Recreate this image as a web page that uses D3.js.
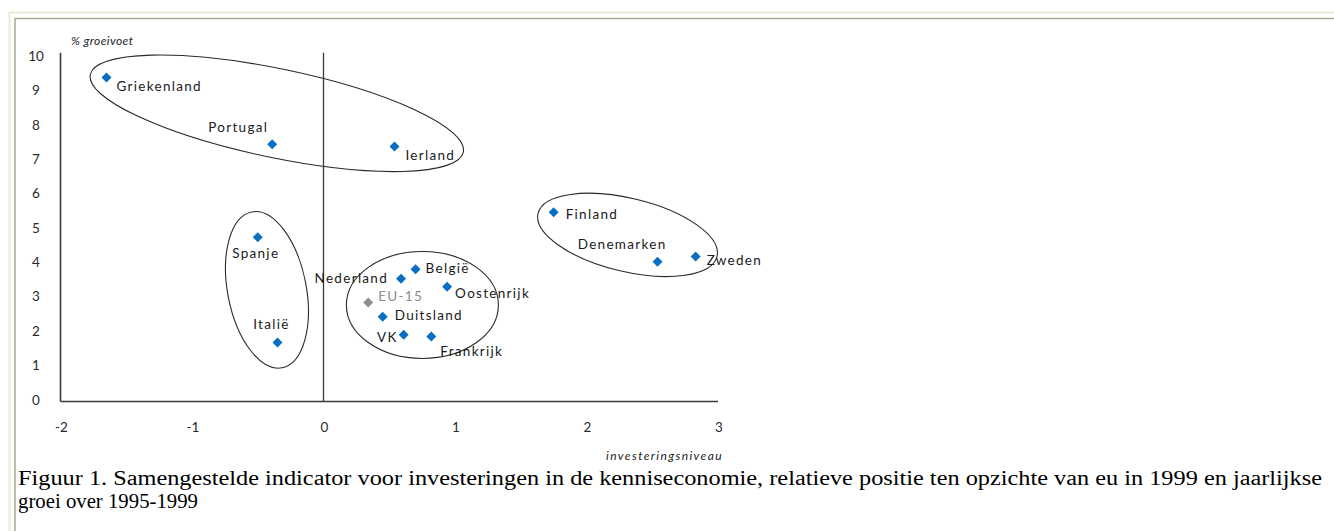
<!DOCTYPE html>
<html><head><meta charset="utf-8">
<script src="https://cdn.jsdelivr.net/npm/d3@7"></script>
<style>
html,body{margin:0;padding:0;background:#fff;overflow:hidden;}
svg{display:block;}
</style></head>
<body>
<svg id="c" width="1334" height="531"></svg>
<script>
// ---- data ----
const countries = ["Griekenland","Portugal","Ierland","Spanje","Italië","EU-15","Duitsland","VK","Frankrijk","Nederland","België","Oostenrijk","Finland","Denemarken","Zweden"];
const investering = [-1.65,-0.39,0.54,-0.50,-0.35,0.34,0.45,0.61,0.82,0.59,0.70,0.94,1.75,2.54,2.83];
const groei = [9.43,7.49,7.42,4.78,1.72,2.88,2.47,1.94,1.89,3.57,3.85,3.34,5.51,4.07,4.22];
const xTicks = [-2,-1,0,1,2,3];
const yTicks = [0,1,2,3,4,5,6,7,8,9,10];
const yAxisTitle = "% groeivoet";
const xAxisTitle = "investeringsniveau";
const caption1 = "Figuur 1. Samengestelde indicator voor investeringen in de kenniseconomie, relatieve positie ten opzichte van eu in 1999 en jaarlijkse";
const caption2 = "groei over 1995-1999";
// group ellipses: centre in data units
const groupCx = [-0.355,-0.43,0.752,2.312];
const groupCy = [8.39,3.25,2.81,4.85];

// ---- presentation ----
const groupShape = [ {rx:190.5, ry:44.4, rot:11.75}, {rx:79.4, ry:39.3, rot:79}, {rx:76, ry:53.5, rot:0}, {rx:92, ry:36.7, rot:13.5} ];
const labelPos = {
  "Griekenland":{dx:10,dy:8,a:"start"},
  "Portugal":{dx:-4,dy:-17.5,a:"end"},
  "Ierland":{dx:11,dy:8,a:"start"},
  "Spanje":{dx:-2,dy:16,a:"middle"},
  "Italië":{dx:-6,dy:-18,a:"middle"},
  "EU-15":{dx:10,dy:-7,a:"start"},
  "Duitsland":{dx:12,dy:-2,a:"start"},
  "VK":{dx:-6,dy:2,a:"end"},
  "Frankrijk":{dx:9,dy:14,a:"start"},
  "Nederland":{dx:-13,dy:-1,a:"end"},
  "België":{dx:10,dy:-1.5,a:"start"},
  "Oostenrijk":{dx:8,dy:6.5,a:"start"},
  "Finland":{dx:12,dy:2,a:"start"},
  "Denemarken":{dx:9,dy:-17.7,a:"end"},
  "Zweden":{dx:11,dy:3,a:"start"}
};
const blue = "#0a6fc2", grey = "#8e8e8e";
const font = "Lato, 'Open Sans', sans-serif";

const svg = d3.select("#c");

// frame
svg.append("path").attr("d","M9.5,531 V12.5 H1334").attr("fill","none").attr("stroke","#ece9d8").attr("stroke-width",2);
svg.append("path").attr("d","M15,531 V18.5 H1334").attr("fill","none").attr("stroke","#aca899").attr("stroke-width",1.5);

const x = d3.scaleLinear().domain([-2,3]).range([60.5,718]);
const y = d3.scaleLinear().domain([0,10]).range([401.5,58]);

const g = svg.append("g");
// axes lines
const axStroke = "#3a3a3a";
g.append("line").attr("x1",x(-2)).attr("x2",x(3)).attr("y1",y(0)).attr("y2",y(0)).attr("stroke",axStroke).attr("stroke-width",1.6);
g.append("line").attr("x1",x(-2)).attr("x2",x(-2)).attr("y1",y(0)).attr("y2",y(10.15)).attr("stroke",axStroke).attr("stroke-width",1.6);
g.append("line").attr("x1",x(0)).attr("x2",x(0)).attr("y1",y(0)).attr("y2",y(10.15)).attr("stroke",axStroke).attr("stroke-width",1.3);

// tick labels
g.selectAll(".yt").data(yTicks).join("text").attr("class","yt")
  .attr("x",36).attr("y",d=>y(d)-2).attr("text-anchor","middle").attr("dominant-baseline","central")
  .attr("font-family",font).attr("font-size",13.5).attr("fill","#2a2a2a").text(d=>d);
g.selectAll(".xt").data(xTicks).join("text").attr("class","xt")
  .attr("x",d=>x(d)+1).attr("y",427).attr("text-anchor","middle").attr("dominant-baseline","central")
  .attr("font-family",font).attr("font-size",13.5).attr("fill","#2a2a2a").text(d=>d);

// axis titles
g.append("text").attr("x",71).attr("y",40).attr("dominant-baseline","central")
  .attr("font-family",font).attr("font-size",12).attr("font-style","italic").attr("letter-spacing",0.4).attr("fill","#222").text(yAxisTitle);
g.append("text").attr("x",723).attr("y",455).attr("text-anchor","end").attr("dominant-baseline","central")
  .attr("font-family",font).attr("font-size",12).attr("font-style","italic").attr("letter-spacing",1.4).attr("fill","#222").text(xAxisTitle);

// group ellipses
g.selectAll(".grp").data(groupCx).join("ellipse").attr("class","grp")
  .attr("cx",0).attr("cy",0)
  .attr("rx",(d,i)=>groupShape[i].rx).attr("ry",(d,i)=>groupShape[i].ry)
  .attr("transform",(d,i)=>`translate(${x(groupCx[i])},${y(groupCy[i])}) rotate(${groupShape[i].rot})`)
  .attr("fill","none").attr("stroke","#2a2a2a").attr("stroke-width",1.1);

// points
const pts = countries.map((c,i)=>({c, xv:investering[i], yv:groei[i]}));
g.selectAll(".pt").data(pts).join("path").attr("class","pt")
  .attr("d", d3.symbol().type(d3.symbolSquare).size(50))
  .attr("transform",d=>`translate(${x(d.xv)},${y(d.yv)}) rotate(45)`)
  .attr("fill",d=>d.c==="EU-15"?grey:blue);

g.selectAll(".lb").data(pts).join("text").attr("class","lb")
  .attr("x",d=>x(d.xv)+labelPos[d.c].dx).attr("y",d=>y(d.yv)+labelPos[d.c].dy)
  .attr("text-anchor",d=>labelPos[d.c].a).attr("dominant-baseline","central")
  .attr("font-family",font).attr("font-size",13.5).attr("letter-spacing",1.3)
  .attr("fill",d=>d.c==="EU-15"?grey:"#1a1a1a").text(d=>d.c);

// caption
const cap = svg.append("g").attr("font-family","'Liberation Serif', 'Times New Roman', serif").attr("fill","#000");
cap.append("text").attr("x",18).attr("y",485).attr("font-size",20.5)
  .attr("textLength",1304).attr("lengthAdjust","spacingAndGlyphs").text(caption1);
cap.append("text").attr("x",18).attr("y",508).attr("font-size",20.5)
  .attr("textLength",180).attr("lengthAdjust","spacingAndGlyphs").text(caption2);
</script>
</body></html>
